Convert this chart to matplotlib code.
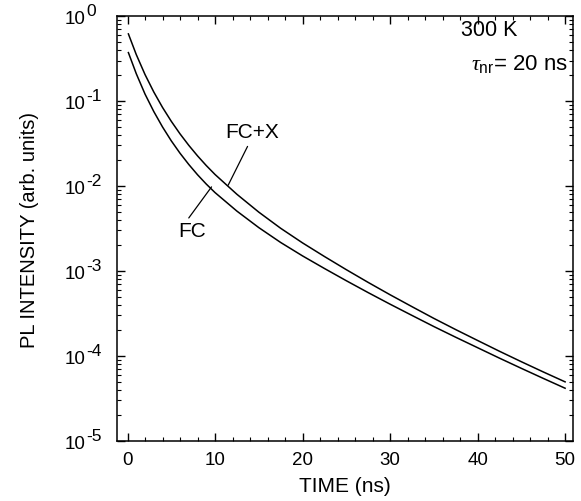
import numpy as np
import matplotlib
matplotlib.use("Agg")
import matplotlib.pyplot as plt
import matplotlib.transforms as mtransforms
from matplotlib.ticker import MultipleLocator, LogLocator, NullFormatter

plt.rcParams['font.family'] = ['Liberation Sans', 'DejaVu Sans']
plt.rcParams['mathtext.fontset'] = 'custom'
plt.rcParams['mathtext.rm'] = 'Liberation Sans'
plt.rcParams['mathtext.it'] = 'Liberation Serif:italic'

# time axis (ns) and log10 of PL intensity
time_ns = [0.1, 1, 2, 3, 4, 5, 6, 7, 8, 9, 10, 12.5, 15, 17.5, 20, 22.5,
           25, 27.5, 30, 32.5, 35, 37.5, 40, 42.5, 45, 47.5, 50]
log_fcx = [-0.21, -0.453, -0.688, -0.893, -1.075, -1.238, -1.386, -1.521,
           -1.645, -1.759, -1.864, -2.097, -2.307, -2.497, -2.669, -2.829,
           -2.984, -3.134, -3.279, -3.419, -3.557, -3.689, -3.817, -3.944,
           -4.067, -4.187, -4.304]
log_fc = [-0.43, -0.678, -0.918, -1.123, -1.305, -1.468, -1.614, -1.746,
          -1.867, -1.977, -2.077, -2.295, -2.489, -2.664, -2.822, -2.970,
          -3.114, -3.254, -3.390, -3.522, -3.653, -3.779, -3.902, -4.025,
          -4.145, -4.263, -4.379]
y_exponents = [0, -1, -2, -3, -4, -5]

fcx = np.power(10.0, log_fcx)
fc = np.power(10.0, log_fc)

fig = plt.figure(figsize=(5.81, 5.02), dpi=100)
ax = fig.add_axes([0.2014, 0.1195, 0.7848, 0.8465])

ax.plot(time_ns, fcx, color='black', lw=1.1)
ax.plot(time_ns, fc, color='black', lw=1.1)

ax.set_yscale('log')
ax.set_xlim(-1.2, 50.9)
ax.set_ylim(1e-5, 1e0)

ax.xaxis.set_major_locator(MultipleLocator(10))
ax.xaxis.set_minor_locator(MultipleLocator(2))
ax.yaxis.set_major_locator(LogLocator(base=10, numticks=10))
ax.yaxis.set_minor_locator(LogLocator(base=10, subs=np.arange(2, 10), numticks=10))
ax.yaxis.set_major_formatter(NullFormatter())
ax.yaxis.set_minor_formatter(NullFormatter())

ax.tick_params(which='both', direction='in', top=True, right=True)
ax.tick_params(which='major', length=6, width=1.0, labelsize=13.5)
ax.tick_params(axis='x', which='major', pad=7)
ax.tick_params(which='minor', length=3, width=0.8)
for s in ax.spines.values():
    s.set_linewidth(1.1)

# y tick labels: "10" with a large superscript exponent
blend = mtransforms.blended_transform_factory(ax.transAxes, ax.transData)
for e in y_exponents:
    base_tr = blend + mtransforms.ScaledTranslation(0, -6.5 / 100, fig.dpi_scale_trans)
    ax.text(-0.070, 10.0**e, '10', transform=base_tr, fontsize=13.5,
            ha='right', va='baseline', clip_on=False)
    sup_tr = blend + mtransforms.ScaledTranslation(1 / 100, 1 / 100, fig.dpi_scale_trans)
    ax.text(-0.070, 10.0**e, str(e), transform=sup_tr, fontsize=12.5,
            ha='left', va='baseline', clip_on=False)

ax.set_xlabel('TIME (ns)', fontsize=15, labelpad=6)
ax.set_ylabel('PL INTENSITY (arb. units)', fontsize=14.5)
ax.yaxis.set_label_coords(-0.171, 0.5)

# curve labels with leader lines
ax.annotate('FC+X', xy=(11.5, 10**-1.99), xytext=(14.2, 10**-1.36),
            fontsize=15, ha='center', va='center',
            arrowprops=dict(arrowstyle='-', color='black', lw=0.9,
                            relpos=(0.47, 0.0), shrinkA=2, shrinkB=0))
ax.annotate('FC', xy=(9.6, 10**-2.01), xytext=(7.4, 10**-2.52),
            fontsize=15, ha='center', va='center',
            arrowprops=dict(arrowstyle='-', color='black', lw=0.9,
                            relpos=(0.3, 1.0), shrinkA=0, shrinkB=0))

ax.text(0.877, 0.969, '300 K', transform=ax.transAxes, fontsize=15.5,
        ha='right', va='center')
ax.text(0.99, 0.889, r'$\tau_{\rm nr}$= 20 ns', transform=ax.transAxes,
        fontsize=16, ha='right', va='center')

fig.savefig('out.png', dpi=100)
